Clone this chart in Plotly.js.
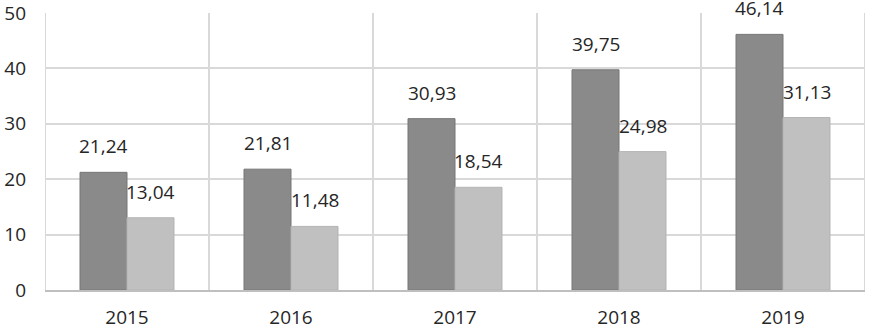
<!DOCTYPE html>
<html>
<head>
<meta charset="utf-8">
<script src="https://cdn.plot.ly/plotly-3.0.1.min.js"></script>
<style>html,body{margin:0;padding:0;background:#fff;}#chart{width:869px;height:327px;}</style>
</head>
<body>
<div id="chart"></div>
<script>
const years = ['2015', '2016', '2017', '2018', '2019'];
const seriesA = [21.24, 21.81, 30.93, 39.75, 46.14];
const seriesB = [13.04, 11.48, 18.54, 24.98, 31.13];
const yTicks = [0, 10, 20, 30, 40, 50];

const font = {family: 'Open Sans, Liberation Sans, sans-serif', size: 19, color: '#262626'};
const fmt = v => v.toFixed(2).replace('.', ',');

const traces = [
  {
    type: 'bar', x: years, y: seriesA, name: 'A',
    marker: {color: '#8a8a8a', line: {color: '#767676', width: 1}}
  },
  {
    type: 'bar', x: years, y: seriesB, name: 'B',
    marker: {color: '#c0c0c0', line: {color: '#b4b4b4', width: 1}}
  }
];

const annotations = [];
[[seriesA, -23.5], [seriesB, 23.5]].forEach(([vals, dx]) => {
  vals.forEach((v, i) => annotations.push({
    xref: 'x', yref: 'y', x: i, y: v, text: fmt(v),
    showarrow: false, xanchor: 'center', yanchor: 'bottom',
    xshift: dx, yshift: 11, font: font
  }));
});

const layout = {
  width: 869, height: 327,
  margin: {l: 45, r: 4, t: 13, b: 37},
  paper_bgcolor: '#ffffff', plot_bgcolor: '#ffffff',
  showlegend: false,
  barmode: 'group',
  bargap: 0.427, bargroupgap: 0,
  font: font,
  annotations: annotations,
  xaxis: {
    type: 'category', categoryarray: years, range: [-0.5, 4.5], showgrid: false,
    showline: true, linecolor: '#bfbfbf', linewidth: 2,
    tickfont: font, ticks: '', ticklabelstandoff: 9, ticklabeloverflow: 'allow'
  },
  yaxis: {
    range: [0, 50], tickvals: yTicks, ticktext: yTicks.map(String),
    showgrid: true, gridcolor: '#d9d9d9', gridwidth: 2,
    zeroline: false, showline: false, tickfont: font, ticks: '',
    ticklabelstandoff: 18, ticklabeloverflow: 'allow'
  },
  shapes: [0, 1, 2, 3, 4, 5].map(i => ({
    type: 'line', xref: 'x', yref: 'paper', x0: i - 0.5, x1: i - 0.5, y0: 0, y1: 1,
    line: {color: '#d9d9d9', width: 2}, layer: 'below'
  }))
};

Plotly.newPlot('chart', traces, layout, {displayModeBar: false, staticPlot: true});
</script>
</body>
</html>
